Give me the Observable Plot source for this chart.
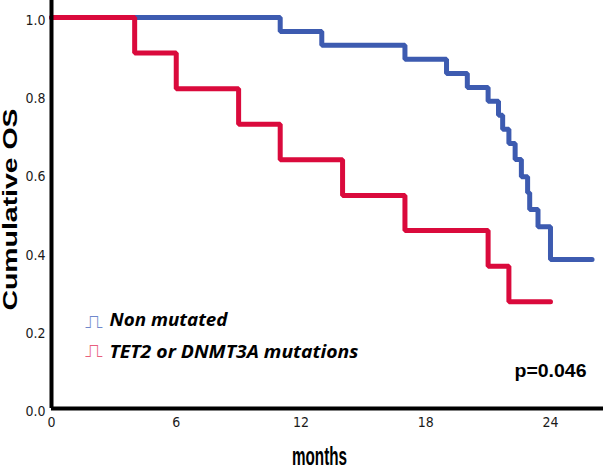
<!DOCTYPE html>
<html><head><meta charset="utf-8">
<script src="https://cdn.jsdelivr.net/npm/d3@7"></script>
<script src="https://cdn.jsdelivr.net/npm/@observablehq/plot@0.6"></script>
<style>body{margin:0;background:#fff} #chart svg{display:block}</style>
</head><body><div id="chart"></div>
<script>
const seriesNames = ["Non mutated", "TET2 or DNMT3A mutations"];
const seriesColors = ["#3d5bb0", "#da0a3c"];
const legendIconColors = ["#6f88cc", "#e8607e"];
const nonMutatedMonths = [0, 11, 13, 17, 19, 20, 21, 21.5, 21.7, 22, 22.3, 22.6, 22.9, 23, 23.4, 24, 26];
const nonMutatedSurvival = [1, 0.964, 0.929, 0.893, 0.857, 0.821, 0.786, 0.75, 0.714, 0.678, 0.637, 0.593, 0.552, 0.509, 0.465, 0.381, 0.381];
const mutatedMonths = [0, 4, 6, 9, 11, 14, 17, 21, 22, 24];
const mutatedSurvival = [1, 0.909, 0.818, 0.727, 0.636, 0.545, 0.455, 0.364, 0.273, 0.273];
const xTicks = [0, 6, 12, 18, 24];
const yTicks = [0, 0.2, 0.4, 0.6, 0.8, 1.0];
const xTitle = "months";
const yTitle = "Cumulative OS";
const pText = "p=0.046";
const legendIcon = "\u238D";

const rows = [
  ...nonMutatedMonths.map((m, i) => ({series: seriesNames[0], month: m, surv: nonMutatedSurvival[i]})),
  ...mutatedMonths.map((m, i) => ({series: seriesNames[1], month: m, surv: mutatedSurvival[i]}))
];

const boldSans = "'Liberation Sans', Arial, sans-serif";
const legendFont = "'Open Sans', 'Liberation Sans', sans-serif";

const chart = Plot.plot({
  width: 603, height: 475,
  marginTop: 0, marginLeft: 51, marginRight: 0, marginBottom: 67,
  style: {fontFamily: "'Liberation Sans Narrow','DejaVu Sans Condensed',sans-serif", fontSize: "14px", background: "#fff", color: "#1a1a1a"},
  x: {domain: [0, 26.55]},
  y: {domain: [0, 1.0435]},
  color: {domain: seriesNames, range: seriesColors},
  marks: [
    Plot.axisX(xTicks, {tickSize: 0, tickPadding: 9, label: null, tickFormat: d => d}),
    Plot.axisY(yTicks, {tickSize: 0, tickPadding: 6, label: null, tickFormat: d3.format(".1f"), dy: 3}),
    Plot.line(rows, {x: "month", y: "surv", z: "series", stroke: "series", curve: "step-after", strokeWidth: 5, strokeLinejoin: "miter"}),
    Plot.ruleY([0], {strokeWidth: 4, stroke: "#000"}),
    Plot.ruleX([0], {strokeWidth: 4, stroke: "#000"}),
    Plot.text([yTitle], {text: d => d, frameAnchor: "left", textAnchor: "start", dx: -41.4, dy: 106, rotate: -90, fontSize: 20, fontWeight: "bold", fontFamily: boldSans, fill: "#000"}),
    Plot.text([xTitle], {text: d => d, frameAnchor: "bottom", dx: -8, dy: 56, fontSize: 25, fontWeight: "bold", fontFamily: boldSans, fill: "#000"}),
    Plot.text([pText], {text: d => d, frameAnchor: "bottom-right", textAnchor: "end", dx: -17, dy: -32, fontSize: 19, fontWeight: "bold", fontFamily: boldSans, fill: "#000"}),
    Plot.text([seriesNames[0]], {text: d => d, frameAnchor: "bottom-left", textAnchor: "start", dx: 58, dy: -83, fontSize: 18, fontWeight: "bold", fontStyle: "italic", fontFamily: legendFont, fill: "#000"}),
    Plot.text([seriesNames[1]], {text: d => d, frameAnchor: "bottom-left", textAnchor: "start", dx: 58, dy: -51, fontSize: 18, fontWeight: "bold", fontStyle: "italic", fontFamily: legendFont, fill: "#000"}),
    Plot.text([legendIcon], {text: d => d, frameAnchor: "bottom-left", textAnchor: "start", dx: 33, dy: -81, fontSize: 17, fontFamily: "'DejaVu Sans', sans-serif", fill: legendIconColors[0]}),
    Plot.text([legendIcon], {text: d => d, frameAnchor: "bottom-left", textAnchor: "start", dx: 33, dy: -52, fontSize: 17, fontFamily: "'DejaVu Sans', sans-serif", fill: legendIconColors[1]})
  ]
});

const lengths = new Map([[yTitle, 202], [xTitle, 55], [pText, 72], [seriesNames[0], 118], [seriesNames[1], 249], [legendIcon, 18]]);
d3.select(chart).selectAll("text").each(function() {
  const t = this.textContent;
  if (lengths.has(t)) d3.select(this).attr("textLength", lengths.get(t)).attr("lengthAdjust", "spacingAndGlyphs");
});

document.getElementById("chart").append(chart);
</script>
</body></html>
